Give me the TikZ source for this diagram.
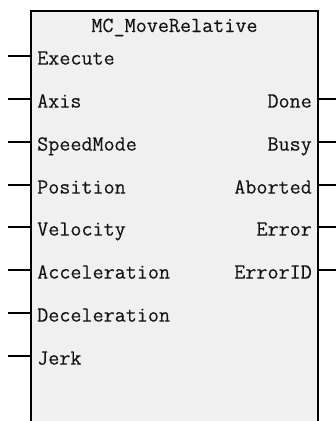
\documentclass[tikz,border=0pt]{standalone}
\usepackage{fontspec}
\usetikzlibrary{positioning}
\newfontfamily\pinfamily{Latin Modern Mono}[FakeBold=0.2]
\newcommand{\pinfont}{\pinfamily\fontsize{21.5}{25}\selectfont}
\definecolor{blockgray}{HTML}{F0F0F0}
\definecolor{pintext}{HTML}{141414}
\tikzset{
  block/.style    = {draw=black, line width=2pt, fill=blockgray, minimum width=287pt,
                     minimum height=440pt, inner sep=0pt, anchor=north west},
  wire/.style     = {line width=2pt},
  pinlabel/.style = {font=\pinfont, text=pintext, inner sep=0pt},
}

\begin{document}
\begin{tikzpicture}[x=1pt,y=-1pt]
  \useasboundingbox (0,0) rectangle (336,421);
  \clip (0,0) rectangle (336,421);
  \node[block] (fb) at (30,10) {};
  \node[pinlabel, anchor=base] (title) at ([yshift=-22pt]fb.north) {MC\_MoveRelative};
  % inputs
  \foreach \pinname [count=\i] in {Execute,Axis,SpeedMode,Position,Velocity,Acceleration,Deceleration,Jerk} {
    \coordinate (in\i) at (8,{round(56+42.857*(\i-1))});
    \draw[wire] (in\i) -- (fb.west |- in\i);
    \node[pinlabel, anchor=base west] (lin\i) at ([xshift=7pt,yshift=-8.6pt]fb.west |- in\i) {\pinname};
  }
  % outputs
  \foreach \pinname [count=\i] in {Done,Busy,Aborted,Error,ErrorID} {
    \coordinate (out\i) at (336,{round(56+42.857*\i)});
    \draw[wire] (fb.east |- out\i) -- (out\i);
    \node[pinlabel, anchor=base east] (lout\i) at ([xshift=-7pt,yshift=-8.6pt]fb.east |- out\i) {\pinname};
  }
\end{tikzpicture}
\end{document}
